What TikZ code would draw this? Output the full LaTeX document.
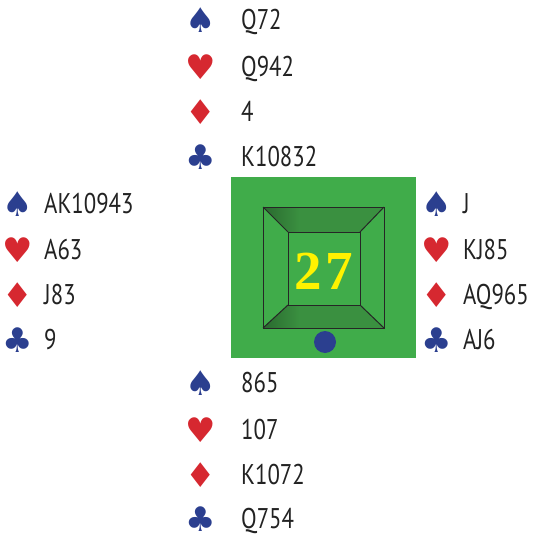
\documentclass[tikz,border=0pt]{standalone}
\usepackage{fontspec}
\setmainfont[FakeStretch=0.8]{PT Sans}
\newfontfamily\suitfont{DejaVu Sans}
\newfontfamily\numfont{Liberation Serif}
\definecolor{feltgreen}{HTML}{40AC4A}
\definecolor{darkgreen}{HTML}{0F2A12}
\definecolor{midgreen}{HTML}{3A9040}
\definecolor{suitblue}{HTML}{2B3F8F}
\definecolor{suitred}{HTML}{D62830}
\definecolor{txtgray}{HTML}{222222}
\definecolor{numyellow}{HTML}{FFF200}
\pgfdeclarehorizontalshading{bevelshade}{100bp}{color(0bp)=(darkgreen); color(40bp)=(midgreen); color(100bp)=(midgreen)}
\tikzset{
  hand/.style={anchor=base west, inner sep=0pt, text=txtgray, font=\fontsize{28.5}{30}\selectfont},
  suit/.style={anchor=center, inner sep=0pt, font=\suitfont\fontsize{34}{34}\selectfont},
  blk/.style={suit, text=suitblue},
  rd/.style={suit, text=suitred},
  bevel/.style={draw=black!85, line width=1pt, line join=miter}
}
\begin{document}
\begin{tikzpicture}[x=1pt,y=-1pt]
\useasboundingbox (0,0) rectangle (536,535);
% board
\fill[feltgreen] (231,177) rectangle (416,358);
\coordinate (o1) at (263,207);
\coordinate (o2) at (384,207);
\coordinate (o3) at (384,328);
\coordinate (o4) at (263,328);
\coordinate (i1) at (288,232);
\coordinate (i2) at (360,232);
\coordinate (i3) at (360,305);
\coordinate (i4) at (288,305);
\shade[shading=bevelshade] (o1) -- (o2) -- (i2) -- (i1) -- cycle;
\shade[shading=bevelshade] (o4) -- (o3) -- (i3) -- (i4) -- cycle;
\draw[bevel] (o1) -- (o2) -- (o3) -- (o4) -- cycle;
\draw[bevel] (i1) -- (i2) -- (i3) -- (i4) -- cycle;
\draw[bevel] (o1) -- (i1) (o2) -- (i2) (o3) -- (i3) (o4) -- (i4);
\node[inner sep=0pt, text=numyellow, font=\numfont\bfseries\fontsize{55}{55}\selectfont] (num) at (324,271) {2\kern4pt7};
\fill[suitblue] (325,342) circle (11) coordinate (dealer);
% North
\node[blk] (ns) at (201,20) {♠};
\node[rd]  (nh) at (201,67) {♥};
\node[rd]  (nd) at (201,112) {♦};
\node[blk] (nc) at (201,157) {♣};
\node[hand] (nst) at (241,29.5) {Q72};
\node[hand] (nht) at (241,76.5) {Q942};
\node[hand] (ndt) at (241,121.5) {4};
\node[hand] (nct) at (241,166.5) {K10832};
% West
\node[blk] (ws) at (18,204) {♠};
\node[rd]  (wh) at (18,250) {♥};
\node[rd]  (wd) at (18,295) {♦};
\node[blk] (wc) at (18,340) {♣};
\node[hand] (wst) at (44,213.5) {AK10943};
\node[hand] (wht) at (44,259.5) {A63};
\node[hand] (wdt) at (44,304.5) {J83};
\node[hand] (wct) at (44,349.5) {9};
% East
\node[blk] (es) at (437,204) {♠};
\node[rd]  (eh) at (437,250) {♥};
\node[rd]  (ed) at (437,295) {♦};
\node[blk] (ec) at (437,340) {♣};
\node[hand] (est) at (463,213.5) {J};
\node[hand] (eht) at (463,259.5) {KJ85};
\node[hand] (edt) at (463,304.5) {AQ965};
\node[hand] (ect) at (463,349.5) {AJ6};
% South
\node[blk] (ss) at (201,383) {♠};
\node[rd]  (sh) at (201,430) {♥};
\node[rd]  (sd) at (201,475) {♦};
\node[blk] (sc) at (201,519) {♣};
\node[hand] (sst) at (241,392.5) {865};
\node[hand] (sht) at (241,439.5) {107};
\node[hand] (sdt) at (241,484.5) {K1072};
\node[hand] (sct) at (241,528.5) {Q754};
\end{tikzpicture}
\end{document}
